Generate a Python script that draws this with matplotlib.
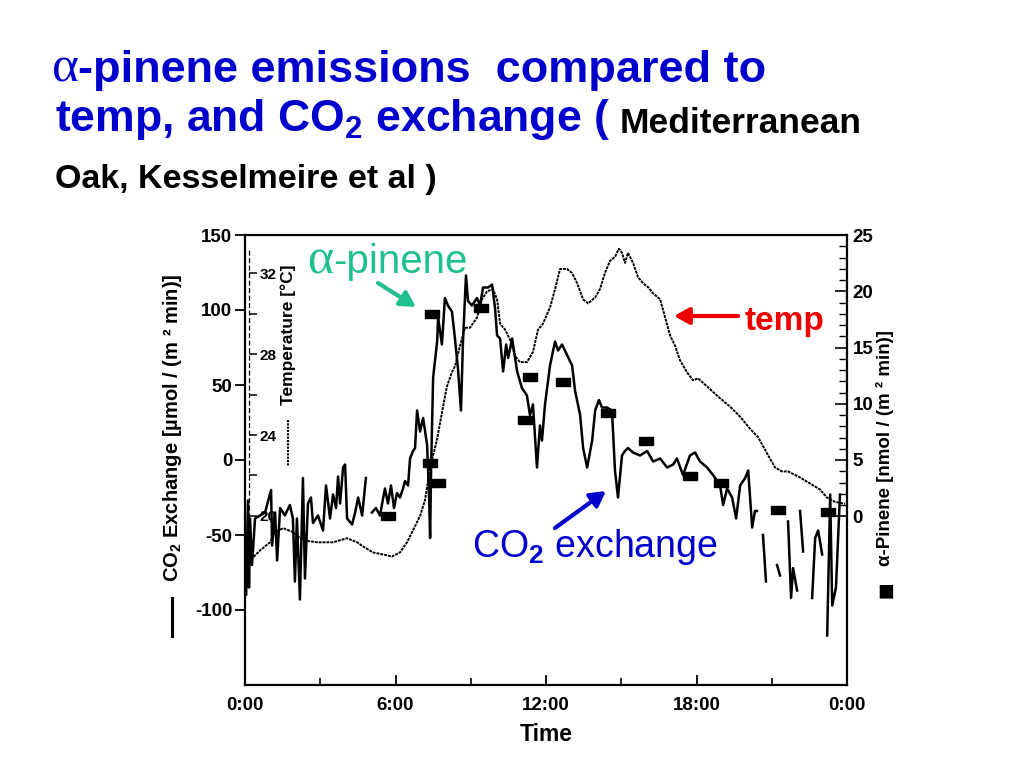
import numpy as np
import matplotlib.pyplot as plt
from matplotlib.lines import Line2D
from matplotlib.patches import FancyArrowPatch

plt.rcParams['font.family'] = ['Liberation Sans', 'DejaVu Sans']
plt.rcParams['font.weight'] = 'bold'
plt.rcParams['axes.labelweight'] = 'bold'
plt.rcParams['axes.unicode_minus'] = False
plt.rcParams['mathtext.fontset'] = 'custom'
plt.rcParams['mathtext.rm'] = 'Liberation Sans:bold'
plt.rcParams['mathtext.it'] = 'Liberation Sans:bold'
plt.rcParams['mathtext.bf'] = 'Liberation Sans:bold'

nan = np.nan

# CO2 exchange [umol/(m2 min)] vs hour of day; nan = gap in the record
co2_hour = [
    0.00, 0.04, 0.12, 0.16, 0.20, 0.28, 0.40, 0.60, 0.80, 1.04,
    1.08, 1.20, 1.28, 1.40, 1.59, 1.79, 1.91, 1.99, 2.07, 2.19,
    2.31, 2.39, 2.51, 2.63, 2.71, 2.91, 3.11, 3.23, 3.39, 3.51,
    3.63, 3.71, 3.79, 3.91, 3.99, 4.07, 4.27, 4.39, 4.51, 4.67,
    4.82, 4.94,
    5.06, 5.22, 5.38, 5.58, 5.70, 5.82, 5.94, 6.06, 6.18, 6.30,
    6.38, 6.50, 6.58, 6.70, 6.78, 6.86, 6.98, 7.10, 7.26, 7.34,
    7.38, 7.42, 7.50, 7.66, 7.70, 7.85, 7.97, 8.09, 8.25, 8.37,
    8.49, 8.61, 8.69, 8.81, 8.89, 9.05, 9.25, 9.37, 9.49, 9.69,
    9.85, 9.97, 10.05, 10.17, 10.29, 10.41, 10.49, 10.65, 10.85, 11.04,
    11.24, 11.36, 11.48, 11.64, 11.76, 11.84, 11.96, 12.16, 12.36, 12.48,
    12.64, 12.84, 13.04, 13.16, 13.36, 13.48, 13.64, 13.84, 13.96, 14.11,
    14.23, 14.43, 14.63, 14.75, 14.87, 15.03, 15.15, 15.27, 15.47, 15.75,
    16.03, 16.27, 16.55, 16.83, 17.07, 17.22, 17.46, 17.74, 17.94, 18.14,
    18.42, 18.66, 18.94, 19.06, 19.22, 19.42, 19.58, 19.74, 19.94, 20.06,
    20.22, 20.33, 20.41, 20.53,
    20.65, 20.77, 21.00,
    21.21, 21.33, 21.50,
    21.65, 21.77, 21.85, 22.01, 22.07,
    22.13, 22.25, 22.40,
    22.61, 22.73, 22.85, 23.01, 23.10,
    23.21, 23.33, 23.41, 23.56, 23.72,
]
co2_val = [
    -52, -90, -27, -85, -39, -70, -39, -37, -35, -20,
    -57, -35, -67, -32, -37, -30, -39, -81, -39, -93,
    -12, -79, -29, -25, -42, -37, -47, -17, -39, -23,
    -32, -11, -29, -5, -3, -39, -43, -35, -25, -37,
    -12, nan,
    -35, -32, -37, -19, -29, -17, -32, -22, -25, -19,
    -14, -17, 1, 6, 8, 33, 19, 28, 10, -25,
    -52, -5, 55, 79, 95, 77, 108, 103, 99, 81,
    61, 33, 79, 123, 106, 103, 108, 103, 115, 115,
    117, 101, 83, 81, 59, 77, 68, 81, 59, 48,
    43, 30, 37, -5, 23, 13, 37, 63, 79, 73,
    77, 70, 63, 46, 30, 8, -5, 13, 33, 40,
    35, 35, 33, -7, -25, 3, 6, 8, 5, 3,
    6, -1, 1, -5, -3, 1, -10, 3, 5, -1,
    -5, -10, -17, -30, -19, -25, -39, -17, -12, -7,
    -45, -34, -34, nan,
    -50, -81, nan,
    -70, -77, nan,
    -41, -92, -72, -87, nan,
    -34, -61, nan,
    -92, -52, -47, -63, nan,
    -117, -23, -97, -85, -23,
]

# air temperature [degC]
temp_hour = [
    0.12, 0.20, 0.60, 1.00, 1.20, 1.52, 1.91, 2.31, 2.87, 3.51,
    4.07, 4.47, 4.70, 5.10, 5.50, 5.86, 6.18, 6.46, 6.70, 6.98,
    7.18, 7.38, 7.66, 7.85, 8.05, 8.25, 8.37, 8.57, 8.77, 8.97,
    9.25, 9.45, 9.65, 9.89, 10.05, 10.17, 10.37, 10.57, 10.77, 10.96,
    11.24, 11.48, 11.68, 11.88, 12.16, 12.36, 12.56, 12.84, 13.04, 13.24,
    13.48, 13.68, 13.96, 14.15, 14.35, 14.55, 14.75, 14.91, 15.03, 15.15,
    15.27, 15.47, 15.67, 15.87, 16.07, 16.27, 16.55, 16.75, 16.95, 17.15,
    17.34, 17.62, 17.86, 18.06, 18.42, 18.86, 19.34, 19.74, 20.14, 20.45,
    20.81, 21.13, 21.41, 21.65, 22.13, 22.53, 22.93, 23.21, 23.52, 23.92,
]
temp_c = [
    17.1, 17.8, 18.3, 18.7, 19.2, 19.4, 19.2, 18.8, 18.7, 18.7,
    18.9, 18.7, 18.5, 18.2, 18.1, 18.0, 18.2, 18.7, 19.3, 20.0,
    20.8, 22.4, 23.8, 25.1, 26.4, 27.1, 27.4, 28.4, 29.3, 29.3,
    29.8, 30.7, 31.1, 31.2, 30.7, 29.5, 29.2, 28.7, 27.9, 27.6,
    27.6, 28.1, 29.2, 29.5, 30.3, 31.2, 32.2, 32.2, 32.0, 31.5,
    30.7, 30.5, 30.8, 31.2, 32.0, 32.6, 32.8, 33.2, 33.0, 32.5,
    33.0, 32.5, 31.8, 31.5, 31.3, 31.0, 30.7, 29.8, 28.9, 28.4,
    27.7, 27.1, 26.7, 26.8, 26.4, 25.9, 25.4, 24.9, 24.3, 23.9,
    23.1, 22.4, 22.2, 22.2, 21.9, 21.6, 21.3, 20.9, 20.7, 20.6,
]

# alpha-pinene emission [nmol/(m2 min)]
pin_hour = [5.70, 7.38, 7.46, 7.70, 9.41, 11.16, 11.36, 12.68, 14.47, 15.99, 17.74, 18.98, 21.25, 23.25]
pin_val = [0.0, 4.7, 18.0, 3.0, 18.5, 8.6, 12.4, 11.9, 9.2, 6.7, 3.6, 3.0, 0.6, 0.4]

time_ticks = [0, 6, 12, 18, 24]
time_labels = ['0:00', '6:00', '12:00', '18:00', '0:00']
co2_ticks = [-100, -50, 0, 50, 100, 150]
temp_ticks = [20, 24, 28, 32]
pin_ticks = [0, 5, 10, 15, 20, 25]

BLUE = '#0000CC'
TEAL = '#1FC08F'
RED = '#EE0000'

W, H = 1024, 768


def fp(x, y):
    # slide pixel -> figure fraction
    return x / W, 1 - y / H


fig = plt.figure(figsize=(10.24, 7.68), dpi=100)
ax = fig.add_axes([245 / W, 1 - 685 / H, 602 / W, 450 / H])

# CO2 exchange (solid line)
ax.plot(co2_hour, np.array(co2_val, dtype=float), color='black', lw=1.8, zorder=3)
ax.set_xlim(0, 24)
ax.set_ylim(-150, 150)
ax.set_xticks(time_ticks)
ax.set_xticklabels(time_labels)
ax.set_xticks([3, 9, 15, 21], minor=True)
ax.set_yticks(co2_ticks)
ax.tick_params(axis='x', which='major', direction='in', length=7, width=1.3, labelsize=13.5, pad=9)
ax.tick_params(axis='x', which='minor', direction='in', length=5, width=1.2)
ax.tick_params(axis='y', direction='out', length=7, width=1.3, labelsize=13.5, pad=2)
for s in ax.spines.values():
    s.set_linewidth(1.6)
ax.set_xlabel('Time', fontsize=16.5, labelpad=6)

# temperature (dotted line), axis sits inside on the left
ax3 = ax.twinx()
ax3.plot(temp_hour, temp_c, color='black', lw=1.4, ls=(0, (1.5, 0.5)), zorder=2)
ax3.set_ylim(11.65, 33.88)
ax3.spines['right'].set_position(('axes', 0.006))
ax3.spines['right'].set_bounds(19.2, 33.2)
ax3.spines['right'].set_linestyle((0, (3, 3)))
ax3.spines['right'].set_linewidth(0.9)
for k in ['left', 'top', 'bottom']:
    ax3.spines[k].set_visible(False)
ax3.set_yticks(temp_ticks)
ax3.set_yticks([22, 26, 30], minor=True)
ax3.tick_params(axis='y', which='major', direction='out', length=6, width=1.1, labelsize=11, pad=2)
ax3.tick_params(axis='y', which='minor', direction='out', length=6, width=1.1)

# alpha-pinene (squares), right axis
ax2 = ax.twinx()
rect = [(-1, -0.55), (1, -0.55), (1, 0.55), (-1, 0.55), (-1, -0.55)]
ax2.plot(pin_hour, pin_val, ls='none', marker=rect, ms=10, color='black', zorder=4)
ax2.set_ylim(-15, 25)
for s in ax2.spines.values():
    s.set_visible(False)
ax2.set_yticks(pin_ticks)
ax2.set_yticks(range(0, 26), minor=True)
ax2.tick_params(axis='y', which='major', direction='in', length=9, width=1.2, labelsize=13.5, pad=4)
ax2.tick_params(axis='y', which='minor', direction='in', length=6, width=1.0)

# axis titles
fig.text(*fp(172, 428), 'CO$_2$ Exchange [µmol / (m ² min)]', rotation=90,
         ha='center', va='center', fontsize=14.5)
fig.add_artist(Line2D([172 / W, 172 / W], [1 - 598 / H, 1 - 636 / H], color='black', lw=2.2))
fig.text(*fp(288, 335), 'Temperature [°C]', rotation=90, ha='center', va='center', fontsize=12.5)
fig.add_artist(Line2D([288 / W, 288 / W], [1 - 420 / H, 1 - 466 / H], color='black', lw=1.5,
                      ls=(0, (1, 0.6))))
fig.text(*fp(885, 448), 'α-Pinene [nmol / (m ² min)]', rotation=90,
         ha='center', va='center', fontsize=13.5)
fig.text(*fp(886, 592), '■', ha='center', va='center', fontsize=20)

# slide title
fig.text(*fp(52, 82), 'α', family='Liberation Serif', weight='normal', fontsize=37, color=BLUE)
fig.text(*fp(78, 82), '-pinene emissions  compared to', fontsize=32.5, color=BLUE)
fig.text(*fp(55, 131), 'temp, and CO$_2$ exchange (', fontsize=32, color=BLUE)
fig.text(*fp(620, 133), 'Mediterranean', fontsize=25.5, color='black')
fig.text(*fp(55, 188), 'Oak, Kesselmeire et al )', fontsize=24.5, color='black')

# annotations
fig.text(*fp(307, 273), 'α', family='Liberation Serif', weight='normal', fontsize=36, color=TEAL)
fig.text(*fp(333, 273), '-pinene', fontsize=29, color=TEAL, weight='normal')
fig.text(*fp(745, 330), 'temp', fontsize=24, color=RED)
fig.text(*fp(472, 557), 'CO$_2$ exchange', fontsize=27, color=BLUE, weight='normal')


def arrow(p0, p1, color):
    fig.add_artist(FancyArrowPatch(fp(*p0), fp(*p1), transform=fig.transFigure,
                                   arrowstyle='-|>,head_length=9,head_width=5',
                                   color=color, lw=3, shrinkA=0, shrinkB=0))


arrow((378, 283), (416, 307), TEAL)
arrow((738, 316), (674, 316), RED)
arrow((555, 528), (606, 491), BLUE)

fig.savefig('out.png', dpi=100)
